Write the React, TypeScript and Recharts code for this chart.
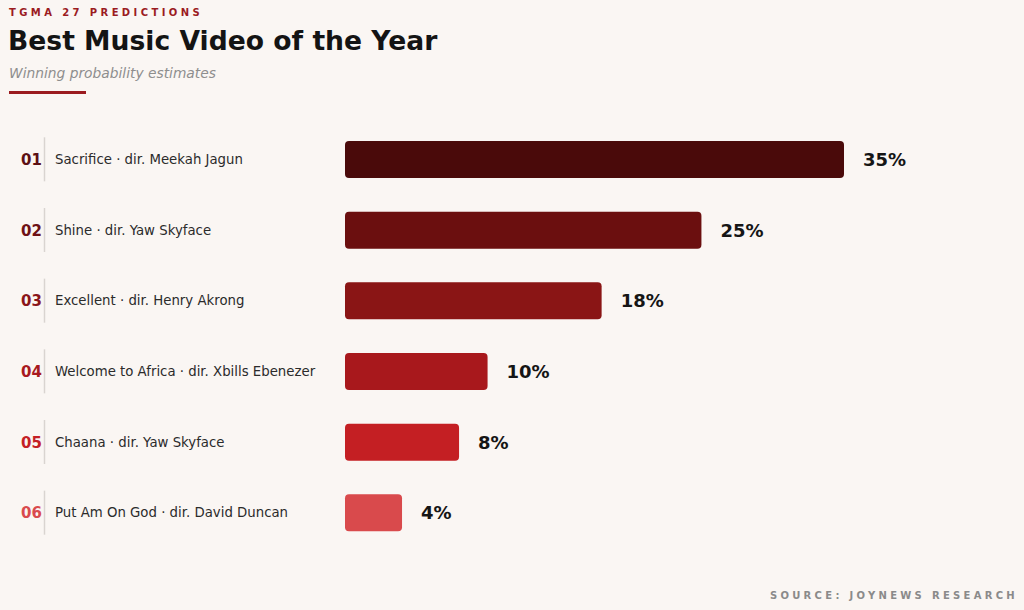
import React from 'react';
import { BarChart, Bar, XAxis, YAxis, Cell, LabelList } from 'recharts';

const ranks = ['01', '02', '03', '04', '05', '06'];
const nominees = [
  'Sacrifice · dir. Meekah Jagun',
  'Shine · dir. Yaw Skyface',
  'Excellent · dir. Henry Akrong',
  'Welcome to Africa · dir. Xbills Ebenezer',
  'Chaana · dir. Yaw Skyface',
  'Put Am On God · dir. David Duncan',
];
const probabilities = [35, 25, 18, 10, 8, 4];
const barColors = ['#4a0a0a', '#6b0f0f', '#8a1515', '#a8181c', '#c41f23', '#d94a4c'];
const rankColors = ['#5c1014', '#6e1115', '#8a1519', '#a8191e', '#c42025', '#d94a4d'];

const FONT = '"DejaVu Sans", Verdana, sans-serif';

const data = nominees.map((name, i) => ({
  name,
  rank: ranks[i],
  value: probabilities[i],
  color: barColors[i],
  rankColor: rankColors[i],
}));

function NomineeTick(props: any) {
  const { y, payload, index } = props;
  const row = data[index] ?? data.find((d) => d.name === payload.value);
  return (
    <g>
      <text x={31.5} y={y} dy={5.5} textAnchor="middle" fontFamily={FONT} fontSize={15} fontWeight={700} fill={row?.rankColor}>
        {row?.rank}
      </text>
      <line x1={44.5} x2={44.5} y1={y - 22} y2={y + 22} stroke="#d9d4d0" strokeWidth={1.5} />
      <text x={55} y={y} dy={4.5} fontFamily={FONT} fontSize={13.3} fill="#2b2b2b">
        {payload.value}
      </text>
    </g>
  );
}

export default function App() {
  return (
    <div style={{ position: 'absolute', left: 0, top: 0, width: 1024, height: 610, background: '#faf6f3', fontFamily: FONT, overflow: 'hidden' }}>
      <div style={{ position: 'absolute', left: 9, top: 7, fontSize: 10, fontWeight: 700, letterSpacing: 3.4, color: '#9b1b1f' }}>
        TGMA 27 PREDICTIONS
      </div>
      <div style={{ position: 'absolute', left: 8, top: 25, fontSize: 26.6, fontWeight: 700, color: '#141414' }}>
        Best Music Video of the Year
      </div>
      <div style={{ position: 'absolute', left: 9, top: 65, fontSize: 13.8, fontStyle: 'italic', color: '#8e8e8e' }}>
        Winning probability estimates
      </div>
      <div style={{ position: 'absolute', left: 9, top: 91, width: 77, height: 3, background: '#9b1b1f' }} />
      <div style={{ position: 'absolute', right: 6, top: 590, fontSize: 10, fontWeight: 700, letterSpacing: 3.3, color: '#8a8a8a' }}>
        SOURCE: JOYNEWS RESEARCH
      </div>
      <div style={{ position: 'absolute', left: 0, top: 0 }}>
        <BarChart
          width={1024}
          height={610}
          data={data}
          layout="vertical"
          margin={{ top: 124, right: 180, bottom: 62, left: 0 }}
        >
          <XAxis type="number" domain={[0, 35]} hide />
          <YAxis
            type="category"
            dataKey="name"
            width={345}
            axisLine={false}
            tickLine={false}
            tick={<NomineeTick />}
            interval={0}
          />
          <Bar dataKey="value" barSize={37} radius={4} isAnimationActive={false}>
            {data.map((d) => (
              <Cell key={d.rank} fill={d.color} />
            ))}
            <LabelList
              dataKey="value"
              position="right"
              offset={19}
              formatter={(v: any) => `${v}%`}
              style={{ fontFamily: FONT, fontSize: 18, fontWeight: 700, fill: '#151515' }}
            />
          </Bar>
        </BarChart>
      </div>
    </div>
  );
}
